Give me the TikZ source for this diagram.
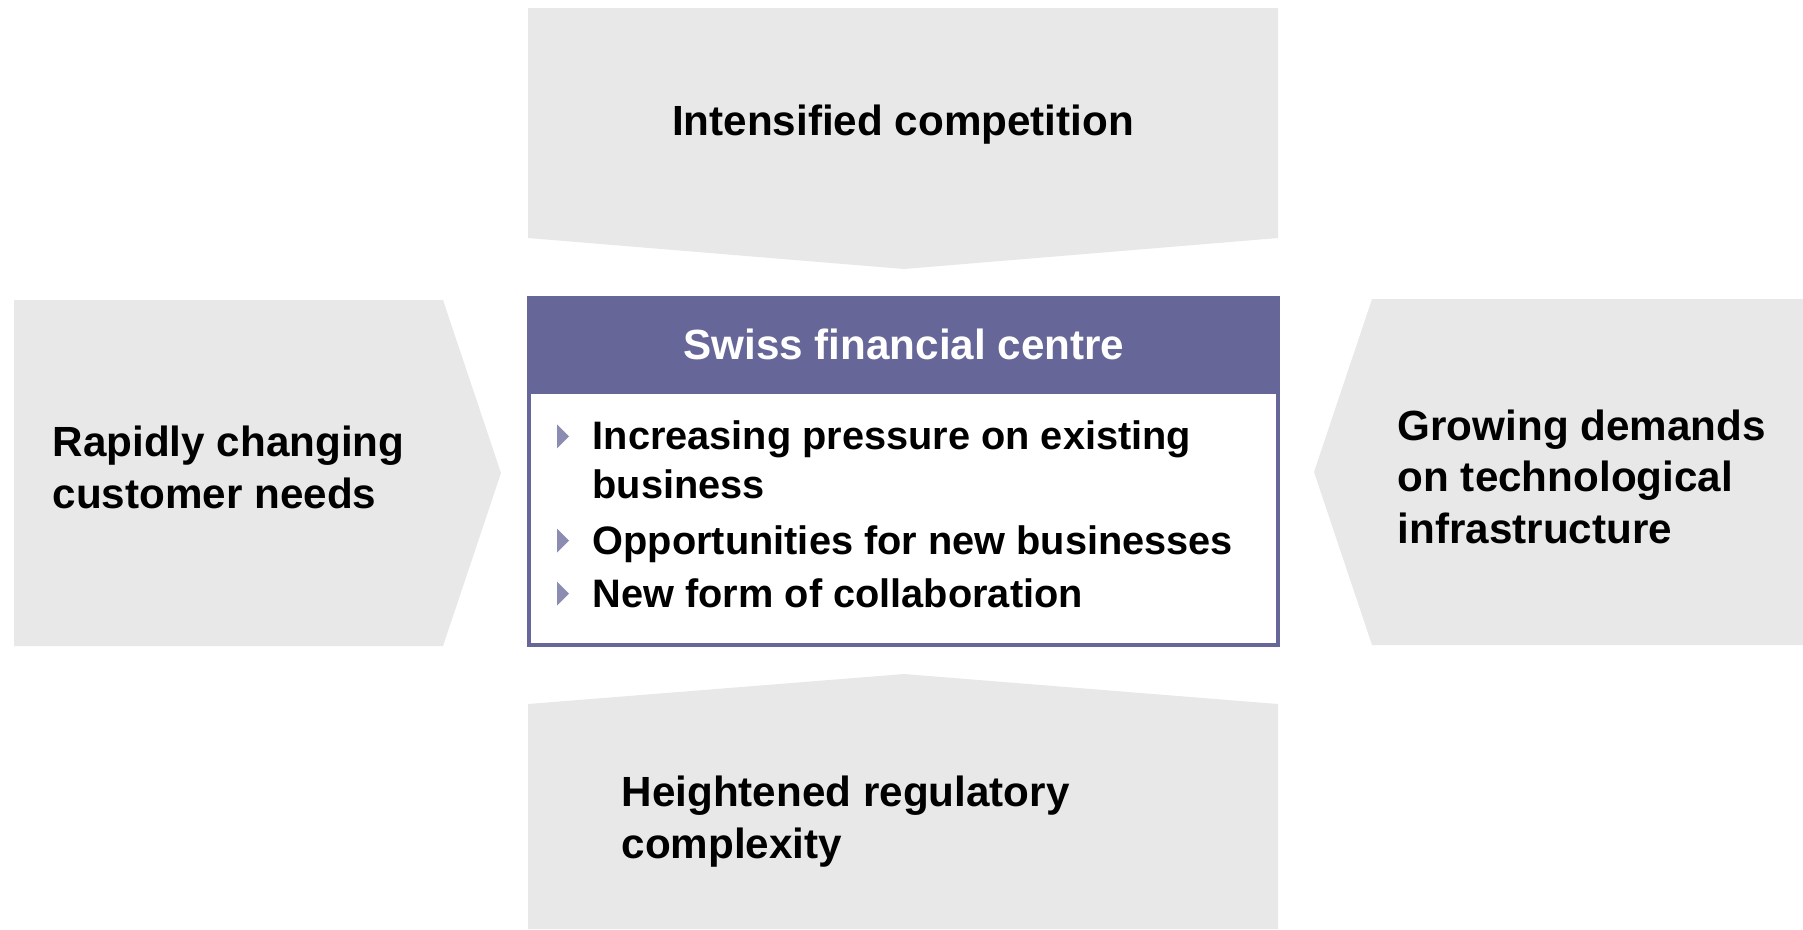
\documentclass[tikz,border=0pt]{standalone}
\usepackage{fontspec}
\setmainfont{Liberation Sans}
\usepackage{xcolor}
\usetikzlibrary{positioning,calc}
\definecolor{panelgray}{HTML}{E8E8E8}
\definecolor{swisspurple}{HTML}{666699}

\begin{document}
\begin{tikzpicture}[x=0.01cm,y=-0.01cm,
    factor/.style={font=\fontsize{12}{14.6}\selectfont\bfseries,align=left,inner sep=0pt,anchor=base west},
    bulletline/.style={font=\fontsize{11.3}{13.7}\selectfont\bfseries,align=left,inner sep=0pt,anchor=base west}]
  \useasboundingbox (0,0) rectangle (1803,929);
  % the four pressures
  \fill[panelgray] (528,8) -- (1278,8) -- (1278,238) -- (904,269) -- (528,238) -- cycle;
  \fill[panelgray] (14,300) -- (443,300) -- (501,473) -- (443,646) -- (14,646) -- cycle;
  \fill[panelgray] (1372,299) -- (1803,299) -- (1803,645) -- (1372,645) -- (1314,472) -- cycle;
  \fill[panelgray] (528,704) -- (904,674) -- (1278,704) -- (1278,929) -- (528,929) -- cycle;
  \node[factor,anchor=base] (comp) at (903,135) {Intensified competition};
  \node[factor] (cust) at (52,508) {Rapidly changing\\customer needs};
  \node[factor] (tech) at (1397,543) {Growing demands\\on technological\\infrastructure};
  \node[factor] (reg) at (621,858) {Heightened regulatory\\complexity};
  % centre box
  \fill[swisspurple] (527,296) rectangle (1280,647);
  \fill[white] (531,394) rectangle (1276,643);
  \node[factor,anchor=base,text=white] (centre) at (904,359) {Swiss financial centre};
  \node[bulletline] (p1) at (592,498) {Increasing pressure on existing\\business};
  \node[bulletline] (p2) at (592,554) {Opportunities for new businesses};
  \node[bulletline] (p3) at (592,607) {New form of collaboration};
  \foreach \p in {p1,p2,p3}
    \fill[swisspurple!75] ($(\p.north west)+(-35,4)$) -- ($(\p.north west)+(-23,16)$) -- ($(\p.north west)+(-35,28)$) -- cycle;
\end{tikzpicture}
\end{document}
